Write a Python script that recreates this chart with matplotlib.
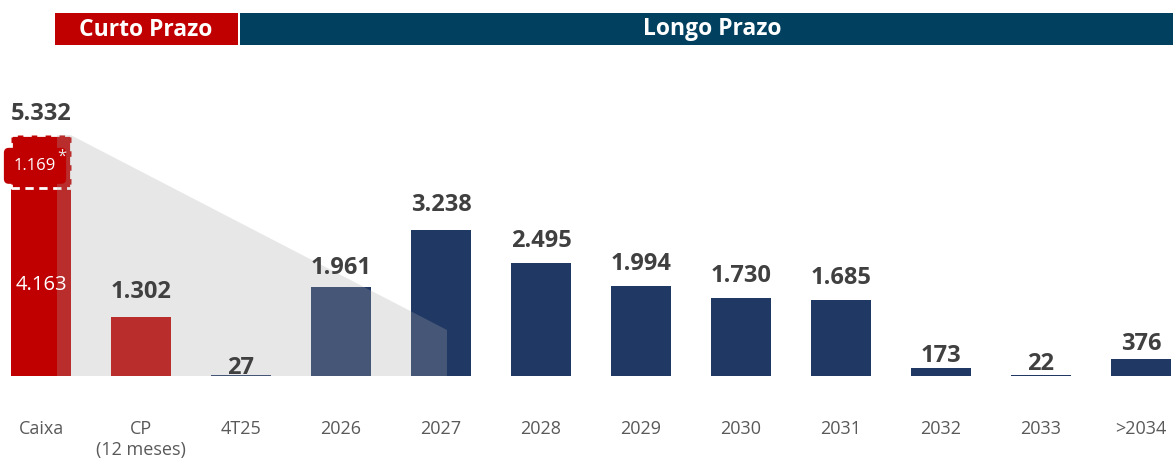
import matplotlib
matplotlib.use("Agg")
import matplotlib.pyplot as plt
from matplotlib.patches import Rectangle, Polygon

plt.rcParams['font.family'] = ['Open Sans', 'DejaVu Sans']

categories = ["Caixa", "CP\n(12 meses)", "4T25", "2026", "2027", "2028", "2029",
              "2030", "2031", "2032", "2033", ">2034"]
values = [5332, 1302, 27, 1961, 3238, 2495, 1994, 1730, 1685, 173, 22, 376]
labels = ["5.332", "1.302", "27", "1.961", "3.238", "2.495", "1.994", "1.730",
          "1.685", "173", "22", "376"]
caixa_base = 4163
caixa_extra = 1169
caixa_base_label = "4.163"
caixa_extra_label = "1.169"

RED = "#c00000"
NAVY = "#203864"
HEAD_NAVY = "#01415f"
TXT = "#404040"
TICK = "#595959"

W, H = 1173, 459
fig = plt.figure(figsize=(W / 100, H / 100), dpi=100)
base_px = 376
top_px = 60
ax = fig.add_axes([0, 1 - base_px / H, 1, (base_px - top_px) / H])
scale = 0.04516  # px per unit
ax.set_ylim(0, (base_px - top_px) / scale)
ax.set_xlim(-0.41, 11.32)

x = list(range(len(categories)))
bw = 0.6
colors = [RED, RED] + [NAVY] * (len(categories) - 2)

# Caixa stacked
ax.bar(0, caixa_base, width=bw, color=RED, zorder=2)
ax.add_patch(Rectangle((-bw / 2, caixa_base), bw, caixa_extra, facecolor=RED,
                       edgecolor="white", linestyle=(0, (3, 2)), linewidth=2, zorder=2))
ax.bar(x[1:], values[1:], width=bw, color=colors[1:], zorder=2)

# translucent gray overlay
tri = Polygon([(0.16, values[0]), (bw / 2, values[0]), (4.06, 1019), (4.06, 0), (0.16, 0)],
              closed=True, facecolor=(169 / 255, 169 / 255, 169 / 255), alpha=0.27,
              edgecolor="none", zorder=3)
ax.add_patch(tri)

# value labels
offsets = [9, 13, -5, 7, 13, 10, 10, 10, 10, 0, -1, 3]
for xi, v, lab, off in zip(x, values, labels, offsets):
    ax.annotate(lab, (xi, v), xytext=(0, off), textcoords="offset pixels",
                ha="center", va="bottom", fontsize=17, fontweight="bold", color=TXT, zorder=5)

# inner labels
ax.text(0, caixa_base / 2 - 60, caixa_base_label, ha="center", va="center",
        fontsize=14.5, color="white", zorder=5)
ax.text(-0.06, caixa_base + caixa_extra * 0.42, caixa_extra_label, ha="center", va="center",
        fontsize=12, color="white", zorder=5,
        bbox=dict(boxstyle="round,pad=0.6,rounding_size=0.3", facecolor=RED, edgecolor="none"))
ax.text(0.21, caixa_base + caixa_extra * 0.60, "*", ha="center", va="center",
        fontsize=12, color="#e8e8e8", zorder=5)

ax.set_xticks(x)
ax.set_xticklabels(categories, fontsize=13, color=TICK, linespacing=1.15)
ax.tick_params(axis="x", length=0, pad=32)
ax.set_yticks([])
for s in ax.spines.values():
    s.set_visible(False)
ax.patch.set_alpha(0)

# header bars
fig.add_artist(Rectangle((55 / W, 1 - 45 / H), (238 - 55) / W, 32 / H,
                         transform=fig.transFigure, facecolor=RED, edgecolor="none"))
fig.add_artist(Rectangle((240 / W, 1 - 45 / H), (W - 240) / W, 32 / H,
                         transform=fig.transFigure, facecolor=HEAD_NAVY, edgecolor="none"))
fig.text(146 / W, 1 - 30 / H, "Curto Prazo", ha="center", va="center",
         fontsize=16.5, fontweight="bold", color="white")
fig.text(712 / W, 1 - 29 / H, "Longo Prazo", ha="center", va="center",
         fontsize=16.5, fontweight="bold", color="white")

fig.savefig("out.png", dpi=100)
